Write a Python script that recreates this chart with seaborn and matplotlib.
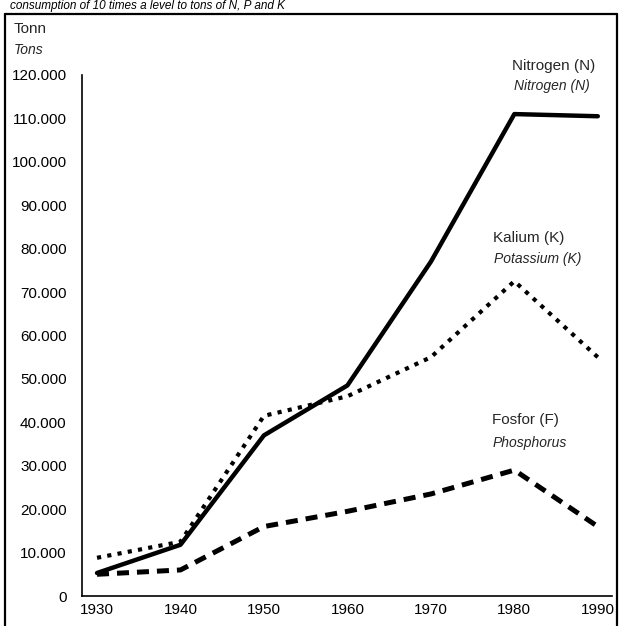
import matplotlib
matplotlib.use("Agg")
import matplotlib.pyplot as plt
from matplotlib.lines import Line2D
import seaborn as sns

years = [1930, 1940, 1950, 1960, 1970, 1980, 1990]
nitrogen = [5300, 11800, 37000, 48500, 77000, 111000, 110500]
kalium = [8800, 12500, 41500, 46000, 55000, 72500, 55000]
fosfor = [5000, 6000, 16000, 19500, 23500, 29000, 16000]
yticks = list(range(0, 120001, 10000))
ytick_labels = ["0"] + [f"{v // 1000}.000" for v in yticks[1:]]

sns.set_theme(style="white")
plt.rcParams['font.family'] = ['Liberation Sans', 'DejaVu Sans']

fig = plt.figure(figsize=(6.21, 6.26), dpi=100)
ax = fig.add_axes([82 / 621, 30 / 626, 530 / 621, 521 / 626])

sns.lineplot(x=years, y=nitrogen, ax=ax, color="black", lw=3.2, linestyle="-")
sns.lineplot(x=years, y=kalium, ax=ax, color="black", lw=3.0, linestyle=(0, (1.0, 1.5)))
sns.lineplot(x=years, y=fosfor, ax=ax, color="black", lw=3.6, linestyle=(0, (2.4, 1.6)))

ax.set_xlim(1928.2, 1991.7)
ax.set_ylim(0, 120000)
ax.set_xticks(years)
ax.set_xticklabels([str(y) for y in years], fontsize=11)
ax.set_yticks(yticks)
ax.set_yticklabels(ytick_labels, fontsize=11)
ax.tick_params(direction="in", length=6, width=1, colors="black")
ax.tick_params(axis="y", pad=11)
ax.tick_params(axis="x", pad=5)
# no tick mark at the top of the axis
ax.yaxis.get_major_ticks()[-1].tick1line.set_visible(False)
for side in ["top", "right"]:
    ax.spines[side].set_visible(False)
for side in ["left", "bottom"]:
    ax.spines[side].set_color("black")
    ax.spines[side].set_linewidth(1.2)

# axis unit
fig.text(14 / 621, 1 - 29 / 626, "Tonn", fontsize=11, va="center")
fig.text(14 / 621, 1 - 50 / 626, "Tons", fontsize=10, style="italic", va="center")

# series labels
fig.text(512 / 621, 1 - 66 / 626, "Nitrogen (N)", fontsize=11, va="center")
fig.text(514 / 621, 1 - 86 / 626, "Nitrogen (N)", fontsize=10, style="italic", va="center")
fig.text(493 / 621, 1 - 238 / 626, "Kalium (K)", fontsize=11, va="center")
fig.text(494 / 621, 1 - 259 / 626, "Potassium (K)", fontsize=10, style="italic", va="center")
fig.text(492 / 621, 1 - 420 / 626, "Fosfor (F)", fontsize=11, va="center")
fig.text(493 / 621, 1 - 443 / 626, "Phosphorus", fontsize=10, style="italic", va="center")

# caption line at the top
fig.text(10 / 621, 1 - 6 / 626, "consumption of 10 times a level to tons of N, P and K",
         fontsize=8.5, style="italic", va="center", color="black")

# frame around the chart
fig.add_artist(Line2D([5 / 621, 617 / 621], [1 - 14 / 626, 1 - 14 / 626], color="black", lw=1.6, transform=fig.transFigure))
fig.add_artist(Line2D([5 / 621, 5 / 621], [0, 1 - 14 / 626], color="black", lw=1.6, transform=fig.transFigure))
fig.add_artist(Line2D([617 / 621, 617 / 621], [0, 1 - 14 / 626], color="black", lw=1.6, transform=fig.transFigure))

fig.savefig("out.png", dpi=100, facecolor="white")
